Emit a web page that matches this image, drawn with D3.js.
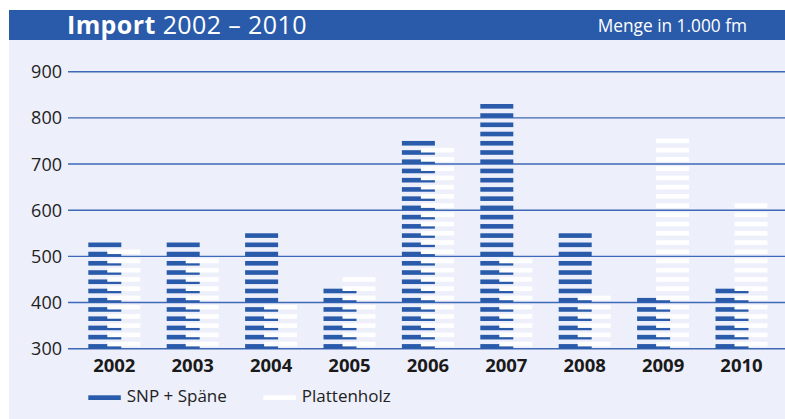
<!DOCTYPE html>
<html><head><meta charset="utf-8">
<script src="https://cdn.jsdelivr.net/npm/d3@7"></script>
<style>
html,body{margin:0;padding:0;background:#fff;}
svg{display:block;font-family:"Open Sans",sans-serif;}
</style></head>
<body>
<svg id="chart" width="785" height="419"></svg>
<script>
const years = ["2002","2003","2004","2005","2006","2007","2008","2009","2010"];
const snpSpaene = [530,530,550,430,750,830,550,410,430];
const plattenholz = [515,495,395,455,735,495,415,755,615];
const yTicks = [300,400,500,600,700,800,900];
const seriesNames = ["SNP + Späne","Plattenholz"];
const titleBold = "Import";
const titleRest = " 2002 – 2010";
const unitLabel = "Menge in 1.000 fm";

const blue = "#2a5baa";
const bg = "#edeffb";
const svg = d3.select("#chart");

// panel
svg.append("rect").attr("x",9).attr("y",10).attr("width",776).attr("height",409).attr("fill",bg);
svg.append("rect").attr("x",9).attr("y",10).attr("width",776).attr("height",30).attr("fill",blue);

const t = svg.append("text").attr("x",67).attr("y",33.5).attr("fill","#fff").attr("font-size",25).attr("letter-spacing",0.4);
t.append("tspan").attr("font-weight","bold").text(titleBold);
t.append("tspan").text(titleRest);
svg.append("text").attr("x",747).attr("y",31.5).attr("fill","#fff").attr("font-size",17.3)
  .attr("text-anchor","end").text(unitLabel);

const y = d3.scaleLinear().domain([300,900]).range([348.7,71.7]);
const x = d3.scaleBand().domain(years).range([75.1,780.7]).padding(0);
const barW = 33;

// gridlines
svg.append("g").selectAll("line").data(yTicks).join("line")
  .attr("x1",68).attr("x2",785)
  .attr("y1",d=>y(d)).attr("y2",d=>y(d))
  .attr("stroke","#3d69b6").attr("stroke-width",1.4);

// y labels
svg.append("g").selectAll("text").data(yTicks).join("text")
  .attr("x",62).attr("y",d=>y(d)+6.5).attr("text-anchor","end")
  .attr("font-size",18).attr("fill","#222").text(d=>d);

// x labels
svg.append("g").selectAll("text").data(years).join("text")
  .attr("x",d=>x(d)+x.bandwidth()/2).attr("y",372.3).attr("text-anchor","middle")
  .attr("font-size",18.5).attr("font-weight","bold").attr("fill","#1a1a1a").text(d=>d);

function stripes(values, offset){
  const out = [];
  values.forEach((v,i)=>{
    for(let b=300+offset; b<v; b+=20){
      out.push({year:years[i], lo:b, hi:Math.min(b+10,v)});
    }
  });
  return out;
}
const center = d=>x(d)+x.bandwidth()/2;

svg.append("g").selectAll("rect").data(stripes(snpSpaene,0)).join("rect")
  .attr("x",d=>center(d.year)-26).attr("width",barW)
  .attr("y",d=>y(d.hi)).attr("height",d=>y(d.lo)-y(d.hi))
  .attr("fill",blue);
svg.append("g").selectAll("rect").data(stripes(plattenholz,5)).join("rect")
  .attr("x",d=>center(d.year)-7).attr("width",barW)
  .attr("y",d=>y(d.hi)).attr("height",d=>y(d.lo)-y(d.hi))
  .attr("fill","#fff");

// legend
const legend = [{name:seriesNames[0],color:blue,x:88.3},{name:seriesNames[1],color:"#fff",x:263.3}];
const lg = svg.append("g").selectAll("g").data(legend).join("g");
lg.append("rect").attr("x",d=>d.x).attr("y",395.3).attr("width",32.5).attr("height",4.7).attr("fill",d=>d.color);
lg.append("text").attr("x",d=>d.x+38.5).attr("y",402.3).attr("font-size",17).attr("fill","#222").text(d=>d.name);
</script>
</body></html>
